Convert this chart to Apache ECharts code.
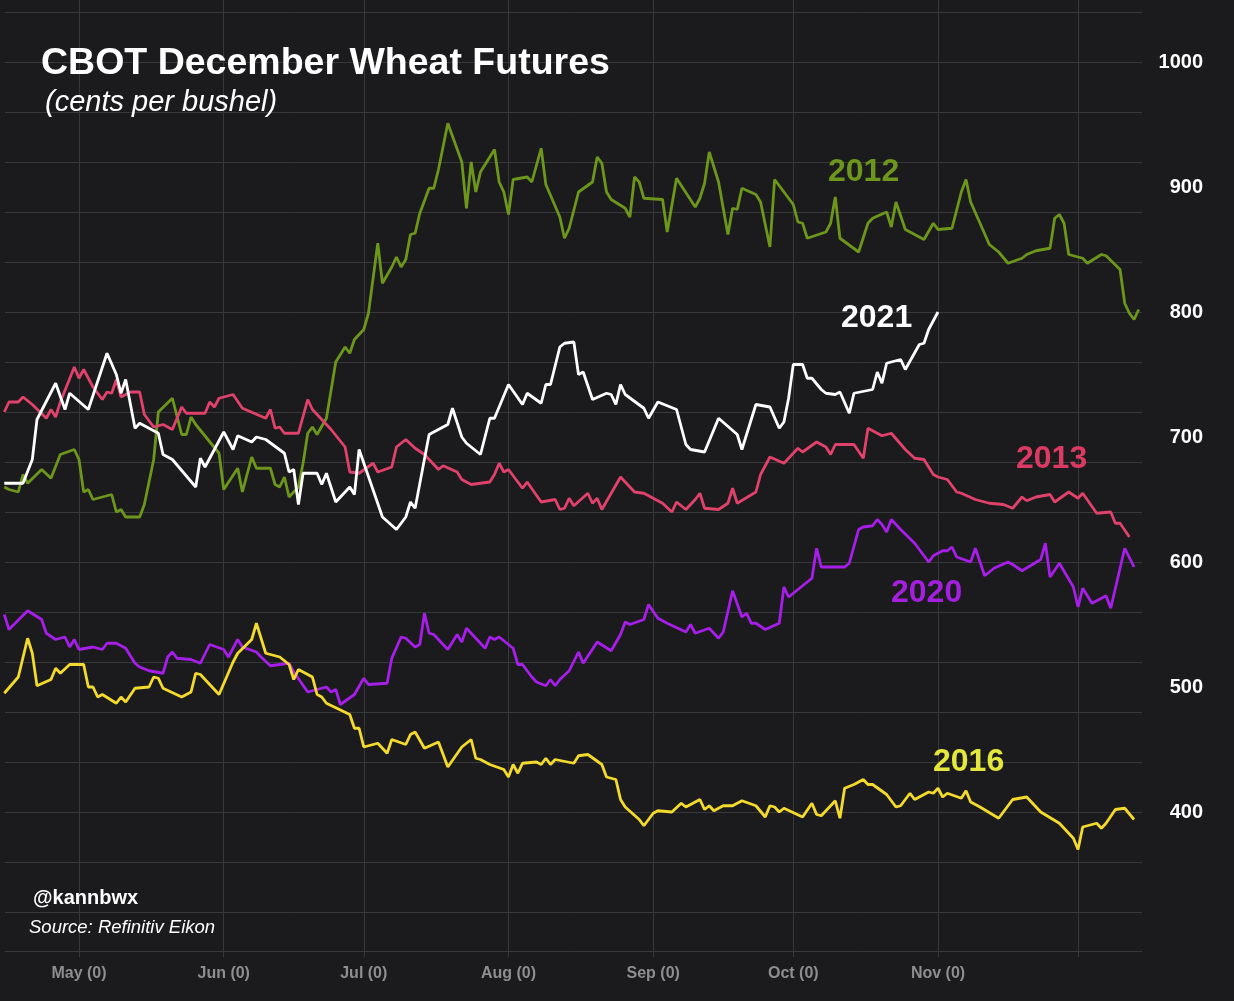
<!DOCTYPE html>
<html>
<head>
<meta charset="utf-8">
<script src="https://cdn.jsdelivr.net/npm/echarts@6/dist/echarts.min.js"></script>
<style>
  html, body { margin: 0; padding: 0; background: #1b1b1d; }
  #chart { width: 1234px; height: 1001px; }
</style>
</head>
<body>
<div id="chart"></div>
<script>
// ---- Data (cents per bushel), dates as MM-DD on a common calendar ----
const wheat2012 = [
  ['04-15',660],['04-16',658],['04-18',656],['04-19',670],['04-20',663],['04-23',674],['04-25',667],['04-27',686],['04-30',690],
  ['05-01',682],['05-02',656],['05-03',658],['05-04',650],['05-08',654],['05-09',640],['05-10',642],['05-11',636],['05-14',636],
  ['05-15',646],['05-17',682],['05-18',720],['05-21',731],['05-23',702],['05-24',702],['05-25',716],['05-26',710],['05-31',687],
  ['06-01',658],['06-04',675],['06-05',656],['06-07',684],['06-08',675],['06-11',675],['06-12',662],['06-13',660],['06-14',668],
  ['06-15',652],['06-17',660],['06-18',679],['06-19',703],['06-20',708],['06-21',702],['06-23',715],['06-25',760],['06-27',772],
  ['06-28',767],['06-29',778],['07-01',786],['07-02',799],['07-04',855],['07-05',823],['07-07',836],['07-08',844],['07-09',836],
  ['07-10',842],['07-11',862],['07-12',863],['07-13',879],['07-15',899],['07-16',899],['07-17',914],['07-19',951],['07-22',920],
  ['07-23',883],['07-24',920],['07-25',896],['07-26',912],['07-29',930],['07-30',904],['07-31',896],['08-01',878],['08-02',906],
  ['08-05',908],['08-06',904],['08-08',931],['08-09',902],['08-12',876],['08-13',859],['08-14',867],['08-16',896],['08-19',904],
  ['08-20',924],['08-21',919],['08-22',896],['08-23',890],['08-26',883],['08-27',876],['08-28',908],['08-29',904],['08-30',891],
  ['09-03',890],['09-04',864],['09-06',907],['09-10',884],['09-11',891],['09-12',903],['09-13',928],['09-15',904],['09-17',862],
  ['09-18',883],['09-19',882],['09-20',899],['09-23',894],['09-24',888],['09-26',852],['09-27',906],['10-01',886],['10-02',872],
  ['10-03',871],['10-04',859],['10-08',864],['10-09',871],['10-10',892],['10-11',859],['10-15',848],['10-17',871],['10-18',875],
  ['10-21',880],['10-22',868],['10-23',888],['10-25',866],['10-29',858],['10-31',871],['11-01',866],['11-04',867],['11-06',896],
  ['11-07',906],['11-08',888],['11-12',854],['11-14',848],['11-16',839],['11-19',843],['11-20',846],['11-22',849],['11-25',851],
  ['11-26',875],['11-27',878],['11-28',871],['11-29',846],['12-02',843],['12-03',839],['12-06',846],['12-07',845],['12-10',834],
  ['12-11',807],['12-12',799],['12-13',794],['12-14',802]
];
const wheat2013 = [
  ['04-15',720],['04-16',728],['04-18',728],['04-19',732],['04-21',726],['04-24',715],['04-25',722],['04-26',716],['04-27',728],
  ['04-30',756],['05-01',747],['05-02',754],['05-04',740],['05-06',730],['05-07',736],['05-08',735],['05-09',746],['05-10',732],
  ['05-12',736],['05-14',736],['05-15',718],['05-17',708],['05-19',710],['05-21',706],['05-23',724],['05-24',719],['05-28',719],
  ['05-29',728],['05-30',724],['05-31',731],['06-03',734],['06-05',723],['06-10',715],['06-11',722],['06-12',707],['06-13',708],
  ['06-14',703],['06-17',703],['06-19',730],['06-20',722],['06-24',706],['06-27',692],['06-28',672],['06-30',671],['07-03',679],
  ['07-04',672],['07-07',676],['07-08',692],['07-10',698],['07-12',691],['07-14',686],['07-17',674],['07-18',677],['07-21',672],
  ['07-22',666],['07-24',662],['07-28',664],['07-29',670],['07-30',679],['07-31',672],['08-01',674],['08-04',659],['08-05',664],
  ['08-08',648],['08-11',650],['08-12',642],['08-13',643],['08-14',651],['08-15',645],['08-18',655],['08-19',647],['08-20',651],
  ['08-21',642],['08-25',668],['08-28',656],['08-30',655],['09-03',647],['09-05',640],['09-06',648],['09-08',642],['09-10',650],
  ['09-11',655],['09-12',643],['09-15',642],['09-17',647],['09-18',659],['09-19',647],['09-23',656],['09-24',670],['09-26',684],
  ['09-29',679],['10-02',691],['10-03',688],['10-06',696],['10-08',692],['10-09',686],['10-10',694],['10-14',694],['10-16',683],
  ['10-17',707],['10-20',701],['10-22',703],['10-25',690],['10-27',683],['10-29',682],['10-31',670],['11-01',668],['11-03',666],
  ['11-05',656],['11-06',655],['11-09',650],['11-12',647],['11-15',646],['11-17',643],['11-19',652],['11-20',649],['11-22',652],
  ['11-25',654],['11-26',648],['11-29',656],['12-01',651],['12-02',655],['12-05',639],['12-08',640],['12-09',631],['12-10',631],
  ['12-12',620]
];
const wheat2016 = [
  ['04-15',495],['04-18',508],['04-20',539],['04-21',527],['04-22',501],['04-25',506],['04-26',515],['04-27',511],['04-29',518],
  ['05-02',518],['05-03',500],['05-04',500],['05-05',492],['05-06',494],['05-09',487],['05-10',492],['05-11',488],['05-13',499],
  ['05-16',500],['05-17',508],['05-18',507],['05-19',499],['05-23',492],['05-25',496],['05-26',511],['05-27',510],['05-31',494],
  ['06-03',520],['06-04',527],['06-07',538],['06-08',551],['06-10',527],['06-13',524],['06-15',518],['06-16',506],['06-17',514],
  ['06-20',508],['06-21',494],['06-22',492],['06-23',487],['06-28',478],['06-29',467],['06-30',467],['07-01',452],['07-04',455],
  ['07-06',447],['07-07',458],['07-10',454],['07-11',462],['07-12',464],['07-14',451],['07-17',456],['07-19',436],['07-22',452],
  ['07-24',458],['07-25',443],['07-26',442],['07-28',438],['07-31',434],['08-01',428],['08-02',438],['08-03',431],['08-04',439],
  ['08-07',440],['08-08',438],['08-09',443],['08-10',438],['08-11',442],['08-15',439],['08-16',445],['08-18',446],['08-21',438],
  ['08-22',428],['08-24',426],['08-25',410],['08-26',404],['08-29',394],['08-30',389],['09-01',399],['09-02',401],['09-05',400],
  ['09-07',407],['09-08',404],['09-11',410],['09-12',402],['09-13',405],['09-14',401],['09-16',405],['09-18',405],['09-20',409],
  ['09-23',405],['09-25',396],['09-26',405],['09-27',404],['09-28',400],['09-29',403],['10-03',396],['10-05',407],['10-06',398],
  ['10-07',397],['10-10',409],['10-11',395],['10-12',419],['10-14',422],['10-16',426],['10-17',422],['10-18',422],['10-21',414],
  ['10-23',404],['10-24',405],['10-26',415],['10-27',410],['10-30',416],['10-31',415],['11-01',419],['11-02',412],['11-03',415],
  ['11-06',411],['11-07',417],['11-08',408],['11-10',404],['11-14',395],['11-15',400],['11-17',410],['11-20',412],['11-23',400],
  ['11-27',391],['11-29',383],['11-30',379],['12-01',370],['12-02',388],['12-05',391],['12-06',387],['12-07',391],['12-09',402],
  ['12-11',403],['12-13',394]
];
const wheat2020 = [
  ['04-15',558],['04-16',546],['04-20',561],['04-23',554],['04-24',543],['04-26',538],['04-28',540],['04-29',532],['04-30',538],
  ['05-01',530],['05-04',532],['05-06',530],['05-07',535],['05-09',535],['05-11',531],['05-13',519],['05-14',516],['05-16',513],
  ['05-19',511],['05-20',524],['05-21',528],['05-22',523],['05-25',522],['05-27',519],['05-29',534],['06-01',530],['06-02',524],
  ['06-04',538],['06-05',532],['06-08',528],['06-09',524],['06-11',517],['06-15',519],['06-16',512],['06-19',496],['06-22',499],
  ['06-23',500],['06-24',496],['06-25',498],['06-26',486],['06-29',494],['07-01',507],['07-02',502],['07-06',503],['07-07',523],
  ['07-09',540],['07-10',539],['07-12',532],['07-13',534],['07-14',559],['07-15',543],['07-16',542],['07-19',530],['07-21',542],
  ['07-22',536],['07-23',547],['07-27',531],['07-28',540],['07-29',538],['07-30',540],['08-02',531],['08-03',518],['08-04',518],
  ['08-06',508],['08-07',504],['08-09',501],['08-10',506],['08-11',501],['08-12',506],['08-14',513],['08-16',528],['08-17',519],
  ['08-20',536],['08-23',529],['08-25',542],['08-26',552],['08-27',550],['08-30',554],['08-31',566],['09-02',555],['09-04',551],
  ['09-08',544],['09-09',550],['09-10',543],['09-13',547],['09-15',539],['09-16',544],['09-18',577],['09-20',556],['09-21',559],
  ['09-22',551],['09-23',551],['09-25',546],['09-28',551],['09-29',580],['09-30',572],['10-05',587],['10-06',611],['10-07',596],
  ['10-12',596],['10-13',599],['10-15',626],['10-16',628],['10-18',629],['10-19',634],['10-20',630],['10-21',624],['10-22',634],
  ['10-24',626],['10-27',615],['10-30',600],['10-31',605],['11-02',609],['11-03',609],['11-04',612],['11-05',604],['11-08',600],
  ['11-09',611],['11-11',589],['11-13',595],['11-16',600],['11-17',598],['11-19',593],['11-23',602],['11-24',615],['11-25',588],
  ['11-27',599],['11-30',580],['12-01',564],['12-02',579],['12-04',567],['12-07',573],['12-08',563],['12-11',611],['12-13',596]
];
const wheat2021 = [
  ['04-15',663],['04-19',663],['04-21',682],['04-22',714],['04-26',743],['04-28',722],['04-29',735],['05-03',722],['05-07',767],
  ['05-09',750],['05-10',735],['05-11',746],['05-13',707],['05-14',711],['05-18',703],['05-19',686],['05-21',682],['05-26',660],
  ['05-27',683],['05-28',676],['06-01',704],['06-03',690],['06-04',701],['06-07',696],['06-08',700],['06-10',698],['06-14',687],
  ['06-15',672],['06-16',674],['06-17',646],['06-18',671],['06-21',671],['06-22',662],['06-23',671],['06-25',648],['06-28',660],
  ['06-29',654],['06-30',690],['07-05',636],['07-08',626],['07-10',636],['07-11',648],['07-12',643],['07-15',702],['07-19',710],
  ['07-20',723],['07-22',700],['07-23',695],['07-26',686],['07-28',715],['07-29',715],['08-01',742],['08-04',726],['08-05',735],
  ['08-08',727],['08-09',742],['08-10',742],['08-12',772],['08-13',775],['08-15',776],['08-16',750],['08-17',752],['08-19',730],
  ['08-22',735],['08-23',734],['08-24',726],['08-25',742],['08-26',734],['08-30',723],['08-31',715],['09-02',728],['09-06',722],
  ['09-08',694],['09-09',690],['09-12',688],['09-15',715],['09-19',702],['09-20',690],['09-23',726],['09-26',724],['09-28',707],
  ['09-29',712],['09-30',731],['10-01',758],['10-03',758],['10-04',747],['10-05',747],['10-07',738],['10-08',735],['10-10',734],
  ['10-11',736],['10-13',719],['10-14',735],['10-18',738],['10-19',752],['10-20',743],['10-21',759],['10-24',762],['10-25',754],
  ['10-28',774],['10-29',775],['10-30',786],['11-01',800]
];

const seriesYears  = ['2012', '2013', '2020', '2016', '2021'];
const yTickValues  = [320, 360, 400, 440, 480, 520, 560, 600, 640, 680, 720, 760, 800, 840, 880, 920, 960, 1000, 1040];
const yLabelValues = [400, 500, 600, 700, 800, 900, 1000];
const monthNames   = ['Jan','Feb','Mar','Apr','May','Jun','Jul','Aug','Sep','Oct','Nov','Dec'];
const xTickMonths  = [4, 5, 6, 7, 8, 9, 10, 11];   // May..Dec (0-based)
const xLabelMonths = [4, 5, 6, 7, 8, 9, 10];       // May..Nov

const BASE_YEAR = 2021;
const dayMs = 86400000;
function toTime(md) {
  const [m, d] = md.split('-').map(Number);
  return Date.UTC(BASE_YEAR, m - 1, d);
}
function toData(arr) { return arr.map(p => [toTime(p[0]), p[1]]); }
function monthStart(m) { return Date.UTC(BASE_YEAR, m, 1); }

const xMin = Date.UTC(BASE_YEAR, 3, 15) + 0.15 * dayMs;
const xMax = Date.UTC(BASE_YEAR, 11, 14) + 0.7 * dayMs;

const GRID_COLOR = '#38383a';
const colors = {
  '2012': '#6d961c', '2013': '#e0426b', '2020': '#a61ee8', '2016': '#f3da2c', '2021': '#ffffff'
};
const labelColors = {
  '2012': '#6c961c', '2013': '#dc3a63', '2020': '#a51fe0', '2016': '#e4e83c', '2021': '#ffffff'
};
const dataByYear = { '2012': wheat2012, '2013': wheat2013, '2020': wheat2020, '2016': wheat2016, '2021': wheat2021 };

const chart = echarts.init(document.getElementById('chart'), null, { renderer: 'canvas' });

const titleFont = 'Liberation Sans, Arial, sans-serif';
const yearLabelPos = {
  '2012': [828, 156], '2021': [841, 302], '2013': [1016, 443], '2020': [891, 577], '2016': [933, 746]
};

const titles = [
  { text: 'CBOT December Wheat Futures', left: 41, top: 45, padding: 0,
    textStyle: { color: '#ffffff', fontSize: 37.5, fontWeight: 'bold', fontFamily: titleFont } },
  { text: '(cents per bushel)', left: 45, top: 88, padding: 0,
    textStyle: { color: '#ffffff', fontSize: 29, fontStyle: 'italic', fontWeight: 'normal', fontFamily: titleFont } },
  { text: '@kannbwx', left: 33, top: 888, padding: 0,
    textStyle: { color: '#ffffff', fontSize: 20, fontWeight: 'bold', fontFamily: titleFont } },
  { text: 'Source: Refinitiv Eikon', left: 29, top: 918, padding: 0,
    textStyle: { color: '#ffffff', fontSize: 18.5, fontStyle: 'italic', fontWeight: 'normal', fontFamily: titleFont } }
];
seriesYears.forEach(y => {
  titles.push({ text: y, left: yearLabelPos[y][0], top: yearLabelPos[y][1], padding: 0,
    textStyle: { color: labelColors[y], fontSize: 32, fontWeight: 'bold', fontFamily: titleFont } });
});

const option = {
  backgroundColor: '#1b1b1d',
  animation: false,
  title: titles,
  grid: { left: 5, right: 92, top: 0, bottom: 50, containLabel: false },
  xAxis: {
    type: 'value',
    min: xMin,
    max: xMax,
    axisLine: { show: true, lineStyle: { color: GRID_COLOR, width: 1 } },
    axisTick: { show: true, length: 6, lineStyle: { color: GRID_COLOR },
      customValues: xTickMonths.map(monthStart) },
    axisLabel: {
      customValues: xLabelMonths.map(monthStart),
      formatter: v => monthNames[new Date(v).getUTCMonth()] + ' (0)',
      color: '#8e8e8e', fontSize: 16, fontWeight: 'bold', fontFamily: titleFont, margin: 15
    },
    splitLine: { show: true, lineStyle: { color: GRID_COLOR, width: 1 } }
  },
  yAxis: {
    type: 'value',
    position: 'right',
    min: 288.8,
    max: 1049.6,
    axisLine: { show: false },
    axisTick: { show: false, customValues: yTickValues },
    axisLabel: {
      customValues: yLabelValues,
      formatter: v => String(v),
      color: '#ffffff', fontSize: 20, fontWeight: 'bold', fontFamily: titleFont,
      align: 'right', margin: 61
    },
    splitLine: { show: true, lineStyle: { color: GRID_COLOR, width: 1 } }
  },
  series: seriesYears.map(y => ({
    name: y,
    type: 'line',
    data: toData(dataByYear[y]),
    showSymbol: false,
    symbol: 'none',
    lineStyle: { color: colors[y], width: 2.8 },
    itemStyle: { color: colors[y] },
    clip: true
  }))
};
chart.setOption(option);
</script>
</body>
</html>
